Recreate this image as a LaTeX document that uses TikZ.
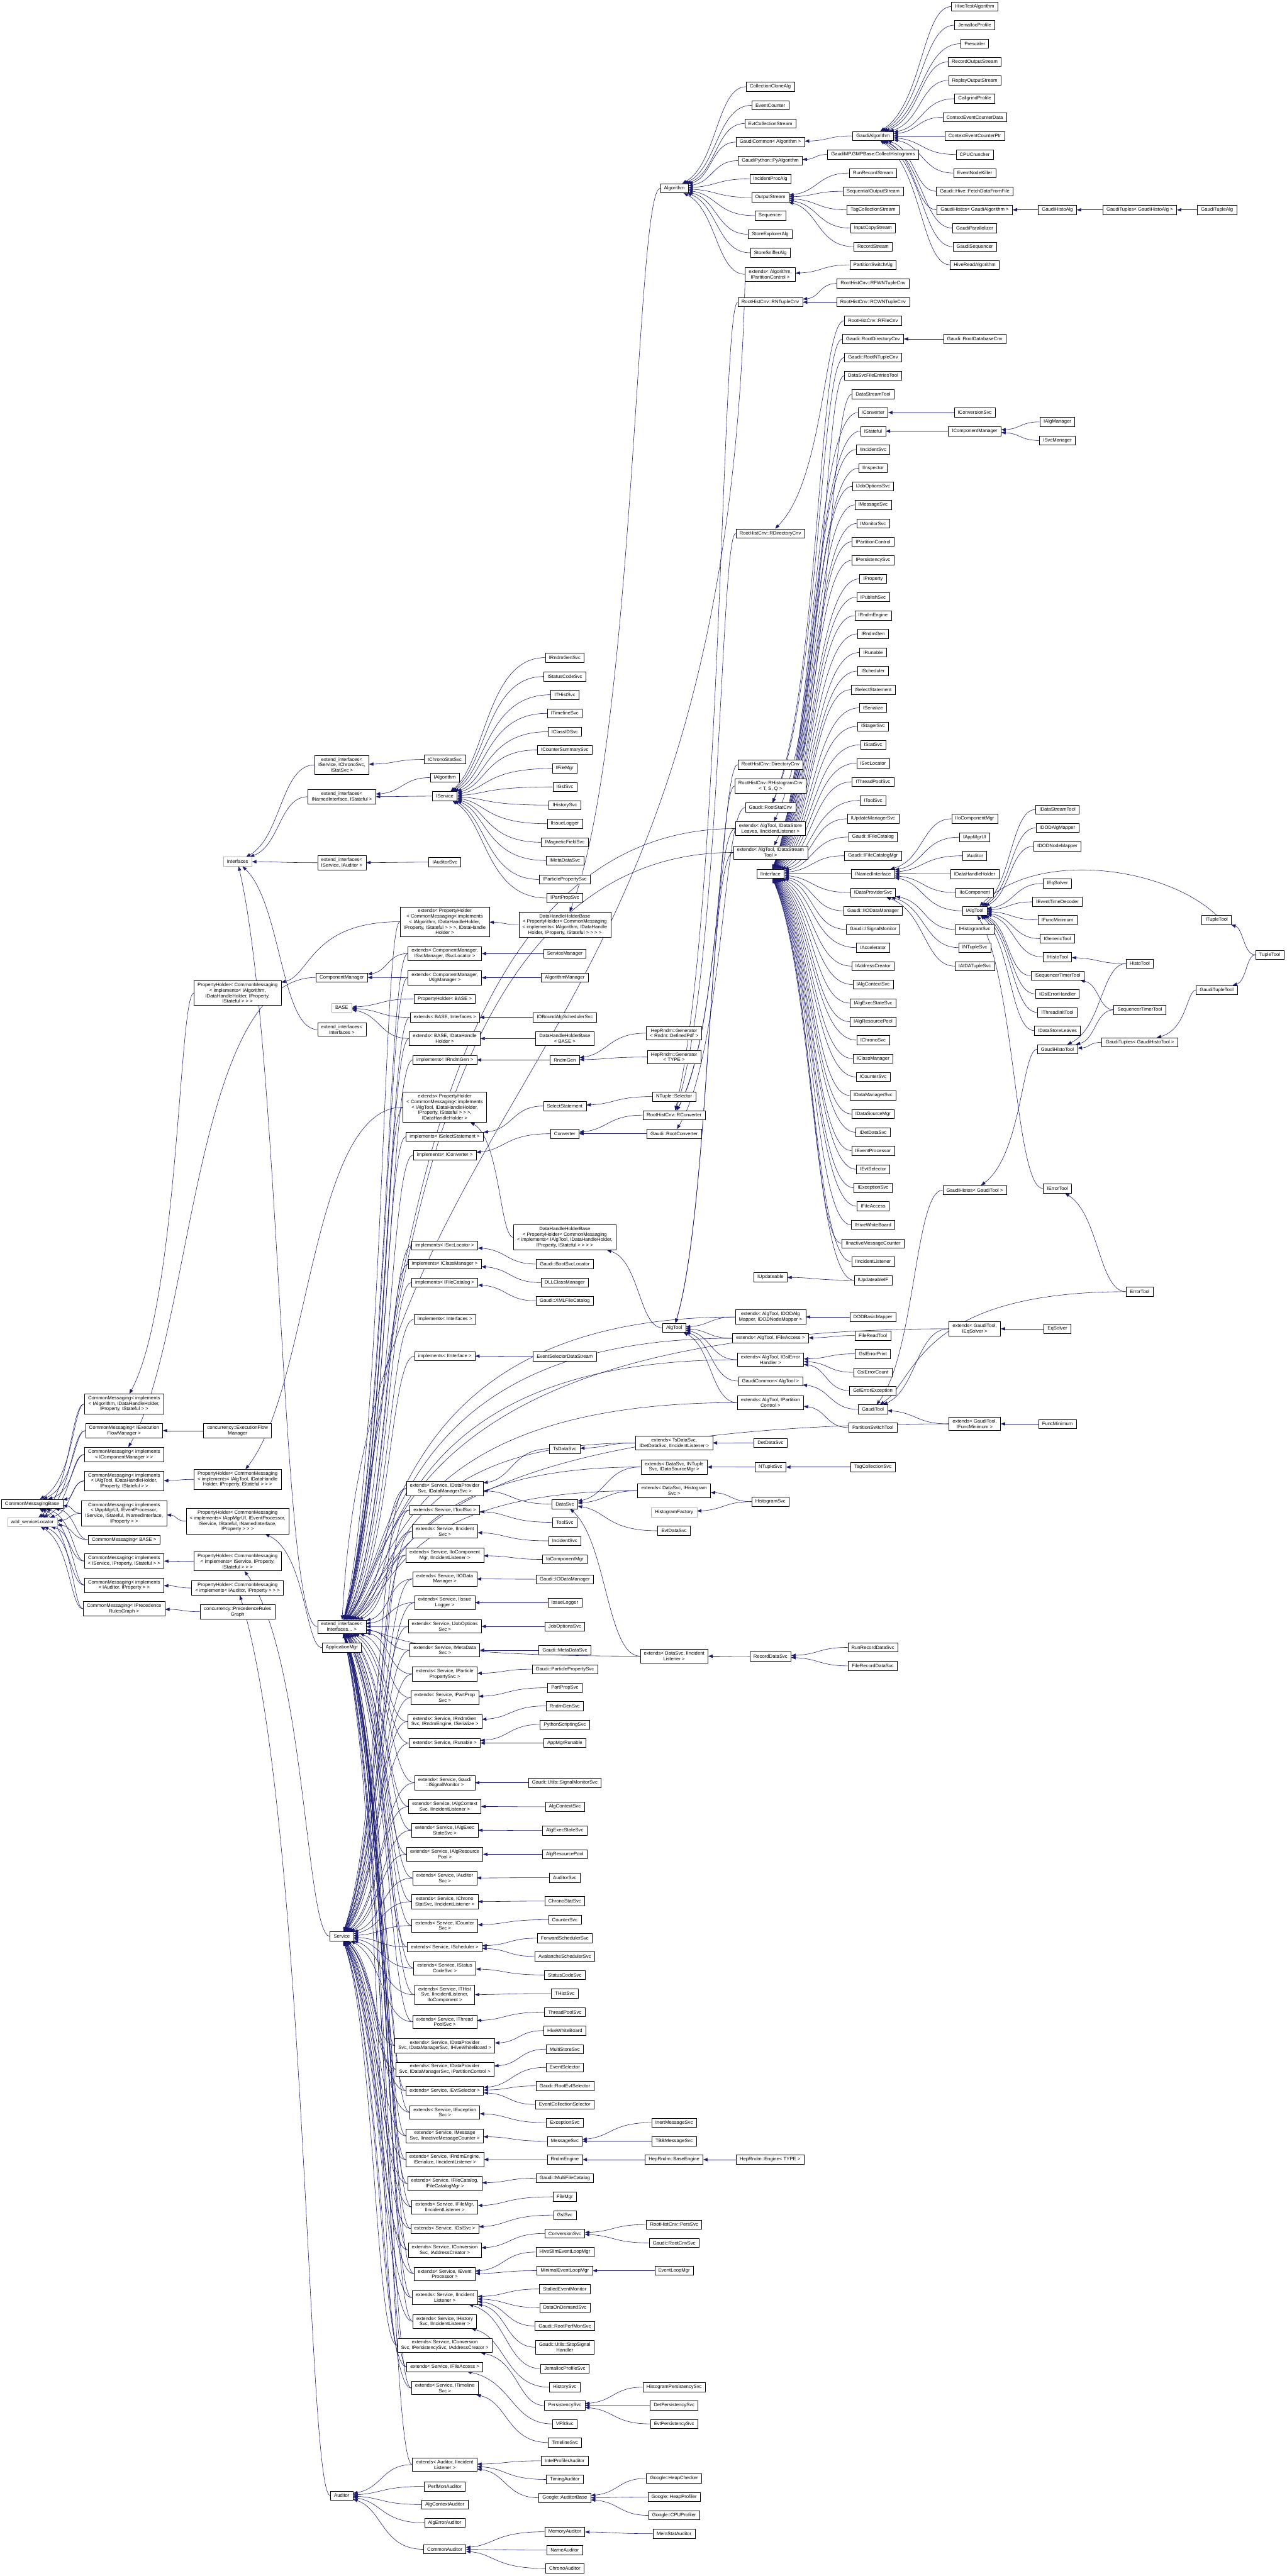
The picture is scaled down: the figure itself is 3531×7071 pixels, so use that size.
\documentclass[tikz,border=0pt]{standalone}
\usepackage{fontspec}
\setmainfont{Liberation Sans}
\usetikzlibrary{calc,arrows.meta}
\definecolor{edgeblue}{RGB}{25,25,112}
\pgfdeclarelayer{edgelayer}
\pgfsetlayers{edgelayer,main}
\tikzset{
  box/.style={draw=black, fill=white, line width=0.5pt, font=\fontsize{6.65}{7.5}\selectfont,
    align=center, inner xsep=5pt, inner ysep=3pt, minimum height=12.5pt},
  gbox/.style={box, draw=black!30},
  edge/.style={draw=edgeblue, line width=0.5pt, -{Triangle[length=6pt,width=4.5pt]}}
}
\newcommand{\gxn}[4]{\node[box] (#1) at (#2,#3) {#4};}
\newcommand{\gxg}[4]{\node[gbox] (#1) at (#2,#3) {#4};}
\newcommand{\gxe}[2]{\draw[edge] let \p1=(#1.west), \p2=(#2.east), \n1={\x2+min(0.5*(\x1-\x2),40pt)} in (\p1) .. controls (\n1,\y1) and (\n1,{\y2+0.25*(\y1-\y2)}) .. (#2);}
\newcommand{\gxes}[2]{\foreach \nm in {#1} {\gxe{\nm}{#2}}}
\begin{document}
\begin{tikzpicture}[x=0.5pt,y=-0.5pt]
\useasboundingbox (0,0) rectangle (3531,7071);
% ---------------- Algorithm cluster
\gxn{alg}{1850.6}{517}{Algorithm}
\gxn{cca}{2114}{238}{CollectionCloneAlg}
\gxn{evc}{2114}{289}{EventCounter}
\gxn{ecs}{2114}{339}{EvtCollectionStream}
\gxn{gca}{2114}{390}{GaudiCommon< Algorithm >}
\gxn{pya}{2114}{441}{GaudiPython::PyAlgorithm}
\gxn{ipa}{2114}{491}{IncidentProcAlg}
\gxn{ost}{2114}{542}{OutputStream}
\gxn{seq}{2114}{592}{Sequencer}
\gxn{sea}{2114}{643}{StoreExplorerAlg}
\gxn{ssa}{2114}{694}{StoreSnifferAlg}
\gxn{eapc}{2114}{753}{extends< Algorithm,\\IPartitionControl >}
\gxn{rntc}{2114}{829.5}{RootHistCnv::RNTupleCnv}
\gxn{rdc}{2114}{1464}{RootHistCnv::RDirectoryCnv}
\gxn{dcnv}{2114.5}{2099}{RootHistCnv::DirectoryCnv}
\gxn{rhc}{2114.5}{2157.5}{RootHistCnv::RHistogramCnv\\< T, S, Q >}
\gxn{rsc}{2114.5}{2216.6}{Gaudi::RootStatCnv}
\gxn{eadsl}{2114.5}{2274.4}{extends< AlgTool, IDataStore\\Leaves, IIncidentListener >}
\gxn{eadst}{2114.5}{2340}{extends< AlgTool, IDataStream\\Tool >}
\gxn{iif}{2114.5}{2398.6}{IInterface}
\gxn{iupd}{2114.5}{3505.5}{IUpdateable}
\gxn{eadod}{2114.5}{3615}{extends< AlgTool, IDODAlg\\Mapper, IDODNodeMapper >}
\gxn{eafa}{2114.5}{3673.5}{extends< AlgTool, IFileAccess >}
\gxn{eagsl}{2114.5}{3732.4}{extends< AlgTool, IGslError\\Handler >}
\gxn{gcat}{2114.5}{3791}{GaudiCommon< AlgTool >}
\gxn{eapct}{2114.5}{3850}{extends< AlgTool, IPartition\\Control >}
\gxn{dds}{2114.5}{3960.5}{DetDataSvc}
\gxn{nts}{2114.5}{4027}{NTupleSvc}
\gxn{hsvc}{2114.5}{4122}{HistogramSvc}
\gxn{rds}{2114.5}{4547}{RecordDataSvc}
\gxn{hre}{2113.5}{5928}{HepRndm::Engine< TYPE >}
% column 2396
\gxn{galg}{2396}{373}{GaudiAlgorithm}
\gxn{gmp}{2396}{424}{GaudiMP.GMPBase.CollectHistograms}
\gxn{rrs}{2396}{475}{RunRecordStream}
\gxn{sos}{2396}{525}{SequentialOutputStream}
\gxn{tcs}{2396}{576}{TagCollectionStream}
\gxn{ics}{2396}{626}{InputCopyStream}
\gxn{rst}{2396}{677}{RecordStream}
\gxn{psa}{2396}{727}{PartitionSwitchAlg}
\gxn{rfwn}{2396}{778}{RootHistCnv::RFWNTupleCnv}
\gxn{rcwn}{2396}{829.5}{RootHistCnv::RCWNTupleCnv}
\gxn{rfc}{2396}{880}{RootHistCnv::RFileCnv}
\gxn{grdc}{2396}{930.5}{Gaudi::RootDirectoryCnv}
\gxn{grntc}{2396}{981}{Gaudi::RootNTupleCnv}
\gxn{dsfet}{2396}{1031}{DataSvcFileEntriesTool}
\gxn{dstool}{2396}{1082}{DataStreamTool}
\gxn{iconv}{2396}{1132.5}{IConverter}
\gxn{istat}{2396}{1183.5}{IStateful}
\gxn{iincs}{2396}{1234}{IIncidentSvc}
\gxn{iinsp}{2396}{1285}{IInspector}
\gxn{ijos}{2396}{1335}{IJobOptionsSvc}
\gxn{imsg}{2396}{1386}{IMessageSvc}
\gxn{imon}{2396}{1437}{IMonitorSvc}
\gxn{ipc}{2396}{1487}{IPartitionControl}
\gxn{ipers}{2396}{1538}{IPersistencySvc}
\gxn{iprop}{2396}{1589}{IProperty}
\gxn{ipub}{2396}{1639}{IPublishSvc}
\gxn{irnde}{2396}{1690}{IRndmEngine}
\gxn{irndg}{2396}{1740}{IRndmGen}
\gxn{irun}{2396}{1791}{IRunable}
\gxn{isched}{2396}{1842}{IScheduler}
\gxn{isel}{2396}{1893}{ISelectStatement}
\gxn{iser}{2396}{1943}{ISerialize}
\gxn{istag}{2396}{1994}{IStagerSvc}
\gxn{istats}{2396}{2044.5}{IStatSvc}
\gxn{isvcl}{2396}{2095}{ISvcLocator}
\gxn{itps}{2396}{2146}{IThreadPoolSvc}
\gxn{itool}{2396}{2197}{IToolSvc}
\gxn{iums}{2396}{2247.5}{IUpdateManagerSvc}
\gxn{gifc}{2396}{2297.5}{Gaudi::IFileCatalog}
\gxn{gifcm}{2396}{2349}{Gaudi::IFileCatalogMgr}
\gxn{inamed}{2396}{2398.6}{INamedInterface}
\gxn{idps}{2396}{2450}{IDataProviderSvc}
\gxn{giiod}{2396}{2500}{Gaudi::IIODataManager}
\gxn{gisig}{2396}{2551}{Gaudi::ISignalMonitor}
\gxn{iacc}{2396}{2601}{IAccelerator}
\gxn{iac}{2396}{2652}{IAddressCreator}
\gxn{iacs}{2396}{2702.5}{IAlgContextSvc}
\gxn{iaes}{2396}{2753.5}{IAlgExecStateSvc}
\gxn{iarp}{2396}{2804.5}{IAlgResourcePool}
\gxn{ichr}{2396}{2855}{IChronoSvc}
\gxn{icm}{2396}{2906}{IClassManager}
\gxn{icnt}{2396}{2956}{ICounterSvc}
\gxn{idms}{2396}{3007}{IDataManagerSvc}
\gxn{idsm}{2396}{3058}{IDataSourceMgr}
\gxn{idds}{2396}{3108}{IDetDataSvc}
\gxn{iep}{2396}{3158.5}{IEventProcessor}
\gxn{ievs}{2396}{3209.5}{IEvtSelector}
\gxn{iexc}{2396}{3260.5}{IExceptionSvc}
\gxn{ifa}{2396}{3311}{IFileAccess}
\gxn{ihwb}{2396}{3362}{IHiveWhiteBoard}
\gxn{iimc}{2396}{3413}{IInactiveMessageCounter}
\gxn{iil}{2396}{3463}{IIncidentListener}
\gxn{iuif}{2396}{3514}{IUpdateableIF}
\gxn{dodbm}{2395.5}{3615}{DODBasicMapper}
\gxn{frt}{2395.5}{3666}{FileReadTool}
\gxn{gep}{2395.5}{3716}{GslErrorPrint}
\gxn{gec}{2395.5}{3767}{GslErrorCount}
\gxn{gee}{2395.5}{3817}{GslErrorException}
\gxn{gtool}{2395.5}{3868.6}{GaudiTool}
\gxn{pst}{2395.5}{3918.5}{PartitionSwitchTool}
\gxn{tcsvc}{2395.5}{4027}{TagCollectionSvc}
\gxn{rrds}{2395.5}{4522}{RunRecordDataSvc}
\gxn{frds}{2395.5}{4572.7}{FileRecordDataSvc}
% column 2675
\gxn{hta}{2675}{18}{HiveTestAlgorithm}
\gxn{jem}{2675}{69}{JemallocProfile}
\gxn{presc}{2675}{120}{Prescaler}
\gxn{ros}{2675}{170}{RecordOutputStream}
\gxn{rpos}{2675}{221}{ReplayOutputStream}
\gxn{cgp}{2675}{271}{CallgrindProfile}
\gxn{cecd}{2675}{322}{ContextEventCounterData}
\gxn{cecp}{2675}{373}{ContextEventCounterPtr}
\gxn{cpuc}{2675}{424}{CPUCruncher}
\gxn{enk}{2675}{475}{EventNodeKiller}
\gxn{fdf}{2675}{525}{Gaudi::Hive::FetchDataFromFile}
\gxn{ghga}{2675}{576}{GaudiHistos< GaudiAlgorithm >}
\gxn{gpar}{2675}{626}{GaudiParallelizer}
\gxn{gseq}{2675}{677}{GaudiSequencer}
\gxn{hra}{2675}{727}{HiveReadAlgorithm}
\gxn{grdbc}{2675}{930.5}{Gaudi::RootDatabaseCnv}
\gxn{iconvs}{2675}{1132.5}{IConversionSvc}
\gxn{icompm}{2675}{1183.5}{IComponentManager}
\gxn{iiocm}{2675}{2247.5}{IIoComponentMgr}
\gxn{iamui}{2675}{2298}{IAppMgrUI}
\gxn{iaud}{2675}{2349}{IAuditor}
\gxn{idhh}{2675}{2399}{IDataHandleHolder}
\gxn{iioc}{2675}{2450}{IIoComponent}
\gxn{ialgt}{2675}{2500}{IAlgTool}
\gxn{ihs}{2675}{2551}{IHistogramSvc}
\gxn{intup}{2675}{2601}{INTupleSvc}
\gxn{iaida}{2675}{2652}{IAIDATupleSvc}
\gxn{ghgt}{2675}{3266.7}{GaudiHistos< GaudiTool >}
\gxn{egteq}{2675}{3647.5}{extends< GaudiTool,\\IEqSolver >}
\gxn{egtfm}{2675}{3908.4}{extends< GaudiTool,\\IFuncMinimum >}
% column 2902
\gxn{ghalg}{2902}{576}{GaudiHistoAlg}
\gxn{ialgm}{2902}{1158}{IAlgManager}
\gxn{isvcm}{2902}{1209}{ISvcManager}
\gxn{idstt}{2902}{2222}{IDataStreamTool}
\gxn{idodam}{2902}{2272.5}{IDODAlgMapper}
\gxn{idodnm}{2902}{2323}{IDODNodeMapper}
\gxn{ieqs}{2902}{2425}{IEqSolver}
\gxn{ietd}{2902}{2475.5}{IEventTimeDecoder}
\gxn{ifmin}{2902}{2525}{IFuncMinimum}
\gxn{igent}{2902}{2576.5}{IGenericTool}
\gxn{iht}{2902}{2627}{IHistoTool}
\gxn{istt}{2902}{2678}{ISequencerTimerTool}
\gxn{igeh}{2902}{2728}{IGslErrorHandler}
\gxn{itit}{2902}{2779}{IThreadInitTool}
\gxn{idsl}{2902}{2829}{IDataStoreLeaves}
\gxn{ghtool}{2902}{2880}{GaudiHistoTool}
\gxn{ierrt}{2902}{3262.5}{IErrorTool}
\gxn{eqs}{2902}{3647.5}{EqSolver}
\gxn{fmin}{2902}{3908.4}{FuncMinimum}
% column 3128+
\gxn{gtga}{3128}{576}{GaudiTuples< GaudiHistoAlg >}
\gxn{htool}{3128}{2645}{HistoTool}
\gxn{stt}{3128}{2772}{SequencerTimerTool}
\gxn{gtgt}{3128}{2861}{GaudiTuples< GaudiHistoTool >}
\gxn{errt}{3128}{3545.6}{ErrorTool}
\gxn{gtalg}{3340}{576}{GaudiTupleAlg}
\gxn{itupt}{3339}{2525.5}{ITupleTool}
\gxn{gtt}{3339}{2717.7}{GaudiTupleTool}
\gxn{tt}{3484.5}{2621}{TupleTool}
% ---------------- middle column 1220
\gxn{iccs}{1220.6}{2084.5}{IChronoStatSvc}
\gxn{ialgo}{1220.6}{2134.5}{IAlgorithm}
\gxn{isvc}{1220.6}{2185.4}{IService}
\gxn{iauds}{1220.6}{2366.6}{IAuditorSvc}
\gxn{epha}{1220.6}{2530}{extends< PropertyHolder\\< CommonMessaging< implements\\< IAlgorithm, IDataHandleHolder,\\IProperty, IStateful > > >, IDataHandle\\Holder >}
\gxn{ecmsm}{1220.6}{2617.5}{extends< ComponentManager,\\ISvcManager, ISvcLocator >}
\gxn{ecmam}{1220.6}{2683.6}{extends< ComponentManager,\\IAlgManager >}
\gxn{phb}{1220.6}{2741.7}{PropertyHolder< BASE >}
\gxn{ebi}{1220.6}{2792.5}{extends< BASE, Interfaces >}
\gxn{ebdh}{1220.6}{2850.6}{extends< BASE, IDataHandle\\Holder >}
\gxn{irg}{1220.6}{2909.5}{implements< IRndmGen >}
\gxn{epht}{1220.6}{3039}{extends< PropertyHolder\\< CommonMessaging< implements\\< IAlgTool, IDataHandleHolder,\\IProperty, IStateful > > >,\\IDataHandleHolder >}
\gxn{iss}{1220.6}{3120}{implements< ISelectStatement >}
\gxn{icv}{1220.6}{3170.5}{implements< IConverter >}
\gxn{isl}{1220.6}{3418.8}{implements< ISvcLocator >}
\gxn{iclm}{1220.6}{3469.7}{implements< IClassManager >}
\gxn{ifc}{1220.6}{3520.6}{implements< IFileCatalog >}
\gxn{iint}{1220.6}{3621.5}{implements< Interfaces >}
\gxn{iii}{1220.6}{3722.3}{implements< IInterface >}
\gxn{s1}{1220.6}{4085.8}{extends< Service, IDataProvider\\Svc, IDataManagerSvc >}
\gxn{s2}{1220.6}{4144.7}{extends< Service, IToolSvc >}
\gxn{s3}{1220.6}{4203.6}{extends< Service, IIncident\\Svc >}
\gxn{s4}{1220.6}{4268.8}{extends< Service, IIoComponent\\Mgr, IIncidentListener >}
\gxn{s5}{1220.6}{4334}{extends< Service, IIOData\\Manager >}
\gxn{s6}{1220.6}{4399}{extends< Service, IIssue\\Logger >}
\gxn{s7}{1220.6}{4464.3}{extends< Service, IJobOptions\\Svc >}
\gxn{s8}{1220.6}{4529.6}{extends< Service, IMetaData\\Svc >}
\gxn{s9}{1220.6}{4595}{extends< Service, IParticle\\PropertySvc >}
\gxn{s10}{1220.6}{4660}{extends< Service, IPartProp\\Svc >}
\gxn{s11}{1220.6}{4725.5}{extends< Service, IRndmGen\\Svc, IRndmEngine, ISerialize >}
\gxn{s12}{1220.6}{4784.5}{extends< Service, IRunable >}
\gxn{s13}{1220.6}{4893.4}{extends< Service, Gaudi\\::ISignalMonitor >}
\gxn{s14}{1220.6}{4958.6}{extends< Service, IAlgContext\\Svc, IIncidentListener >}
\gxn{s15}{1220.6}{5023.8}{extends< Service, IAlgExec\\StateSvc >}
\gxn{s16}{1220.6}{5089.8}{extends< Service, IAlgResource\\Pool >}
\gxn{s17}{1220.6}{5155}{extends< Service, IAuditor\\Svc >}
\gxn{s18}{1220.6}{5220}{extends< Service, IChrono\\StatSvc, IIncidentListener >}
\gxn{s19}{1220.6}{5285.4}{extends< Service, ICounter\\Svc >}
\gxn{s20}{1220.6}{5344.3}{extends< Service, IScheduler >}
\gxn{s21}{1220.6}{5402.4}{extends< Service, IStatus\\CodeSvc >}
\gxn{s22}{1220.6}{5475.6}{extends< Service, ITHist\\Svc, IIncidentListener,\\IIoComponent >}
\gxn{s23}{1220.6}{5549.7}{extends< Service, IThread\\PoolSvc >}
\gxn{s24}{1220.6}{5614.9}{extends< Service, IDataProvider\\Svc, IDataManagerSvc, IHiveWhiteBoard >}
\gxn{s25}{1220.6}{5680}{extends< Service, IDataProvider\\Svc, IDataManagerSvc, IPartitionControl >}
\gxn{s26}{1220.6}{5739}{extends< Service, IEvtSelector >}
\gxn{s27}{1220.6}{5798}{extends< Service, IException\\Svc >}
\gxn{s28}{1220.6}{5863}{extends< Service, IMessage\\Svc, IInactiveMessageCounter >}
\gxn{s29}{1220.6}{5927.8}{extends< Service, IRndmEngine,\\ISerialize, IIncidentListener >}
\gxn{s30}{1220.6}{5993.7}{extends< Service, IFileCatalog,\\IFileCatalogMgr >}
\gxn{s31}{1220.6}{6058}{extends< Service, IFileMgr,\\IIncidentListener >}
\gxn{s32}{1220.6}{6117.3}{extends< Service, IGslSvc >}
\gxn{s33}{1220.6}{6176.5}{extends< Service, IConversion\\Svc, IAddressCreator >}
\gxn{s34}{1220.6}{6241.7}{extends< Service, IEvent\\Processor >}
\gxn{s35}{1220.6}{6306.9}{extends< Service, IIncident\\Listener >}
\gxn{s36}{1220.6}{6372}{extends< Service, IHistory\\Svc, IIncidentListener >}
\gxn{s37}{1220.6}{6437.9}{extends< Service, IConversion\\Svc, IPersistencySvc, IAddressCreator >}
\gxn{s38}{1220.6}{6497}{extends< Service, IFileAccess >}
\gxn{s39}{1220.6}{6554.9}{extends< Service, ITimeline\\Svc >}
\gxn{eaud}{1220.6}{6765.2}{extends< Auditor, IIncident\\Listener >}
\gxn{pma}{1220.6}{6825}{PerfMonAuditor}
\gxn{aca}{1220.6}{6874.7}{AlgContextAuditor}
\gxn{aea}{1220.6}{6925}{AlgErrorAuditor}
\gxn{cau}{1220.6}{6997.6}{CommonAuditor}
% ---------------- column 1550
\gxn{irgs}{1550}{1805}{IRndmGenSvc}
\gxn{iscs}{1550}{1857}{IStatusCodeSvc}
\gxn{iths}{1550}{1907}{ITHistSvc}
\gxn{itls}{1550}{1958}{ITimelineSvc}
\gxn{icids}{1550}{2008.6}{IClassIDSvc}
\gxn{icss}{1550}{2058.6}{ICounterSummarySvc}
\gxn{ifm}{1550}{2109.5}{IFileMgr}
\gxn{igsl}{1550}{2160}{IGslSvc}
\gxn{ihist}{1550}{2210}{IHistorySvc}
\gxn{iisl}{1550}{2261}{IIssueLogger}
\gxn{imfs}{1550}{2312}{IMagneticFieldSvc}
\gxn{imds}{1550}{2362}{IMetaDataSvc}
\gxn{ipps}{1550}{2414}{IParticlePropertySvc}
\gxn{ippr}{1550}{2465}{IPartPropSvc}
\gxn{dhha}{1550}{2538}{DataHandleHolderBase\\< PropertyHolder< CommonMessaging\\< implements< IAlgorithm, IDataHandle\\Holder, IProperty, IStateful > > > >}
\gxn{smgr}{1550}{2617.5}{ServiceManager}
\gxn{amgr}{1550}{2683.6}{AlgorithmManager}
\gxn{iobs}{1550}{2792.5}{IOBoundAlgSchedulerSvc}
\gxn{dhhb}{1550}{2850.6}{DataHandleHolderBase\\< BASE >}
\gxn{rgen}{1550}{2909.5}{RndmGen}
\gxn{sst}{1550}{3036}{SelectStatement}
\gxn{conv}{1550}{3112}{Converter}
\gxn{dhht}{1550}{3396.4}{DataHandleHolderBase\\< PropertyHolder< CommonMessaging\\< implements< IAlgTool, IDataHandleHolder,\\IProperty, IStateful > > > >}
\gxn{bsl}{1550}{3469.7}{Gaudi::BootSvcLocator}
\gxn{dllcm}{1550}{3520.6}{DLLClassManager}
\gxn{xfc}{1550}{3570.6}{Gaudi::XMLFileCatalog}
\gxn{esds}{1550}{3723.2}{EventSelectorDataStream}
\gxn{tsds}{1550}{3976.8}{TsDataSvc}
\gxn{dsvc}{1550}{4128.6}{DataSvc}
\gxn{tsvc}{1550}{4178.6}{ToolSvc}
\gxn{incs}{1550}{4229.5}{IncidentSvc}
\gxn{iocm}{1550}{4280.4}{IoComponentMgr}
\gxn{giodm}{1550}{4334.8}{Gaudi::IODataManager}
\gxn{isslog}{1550}{4399}{IssueLogger}
\gxn{josvc}{1550}{4464.3}{JobOptionsSvc}
\gxn{gmds}{1550}{4529.6}{Gaudi::MetaDataSvc}
\gxn{gpps}{1550}{4581.8}{Gaudi::ParticlePropertySvc}
\gxn{pps}{1550}{4632.7}{PartPropSvc}
\gxn{rgs}{1550}{4682.7}{RndmGenSvc}
\gxn{pss}{1550}{4733.6}{PythonScriptingSvc}
\gxn{amr}{1550}{4784.5}{AppMgrRunable}
\gxn{gsms}{1550}{4893.4}{Gaudi::Utils::SignalMonitorSvc}
\gxn{acs}{1550}{4959.5}{AlgContextSvc}
\gxn{aes}{1550}{5024.7}{AlgExecStateSvc}
\gxn{arp}{1550}{5089.8}{AlgResourcePool}
\gxn{auds}{1550}{5154}{AuditorSvc}
\gxn{css}{1550}{5218.4}{ChronoStatSvc}
\gxn{cnts}{1550}{5269.3}{CounterSvc}
\gxn{fss}{1550}{5320.2}{ForwardSchedulerSvc}
\gxn{ass}{1550}{5370.2}{AvalancheSchedulerSvc}
\gxn{scs}{1550}{5421}{StatusCodeSvc}
\gxn{ths}{1550}{5472}{THistSvc}
\gxn{tps}{1550}{5523}{ThreadPoolSvc}
\gxn{hwb}{1550}{5573.8}{HiveWhiteBoard}
\gxn{mss}{1550}{5624.7}{MultiStoreSvc}
\gxn{evsel}{1550}{5674.7}{EventSelector}
\gxn{gres}{1550}{5725.6}{Gaudi::RootEvtSelector}
\gxn{ecsel}{1550}{5776.5}{EventCollectionSelector}
\gxn{excs}{1550}{5826.5}{ExceptionSvc}
\gxn{msgs}{1550}{5877.4}{MessageSvc}
\gxn{rnde}{1550}{5928}{RndmEngine}
\gxn{gmfc}{1550}{5978.9}{Gaudi::MultiFileCatalog}
\gxn{fmgr}{1550}{6030}{FileMgr}
\gxn{gslsvc}{1550}{6080.3}{GslSvc}
\gxn{convs}{1550}{6130.6}{ConversionSvc}
\gxn{hsel}{1550}{6181.7}{HiveSlimEventLoopMgr}
\gxn{mel}{1550}{6232.8}{MinimalEventLoopMgr}
\gxn{sem}{1550}{6283.2}{StalledEventMonitor}
\gxn{dods}{1550}{6334.2}{DataOnDemandSvc}
\gxn{grpm}{1550}{6384.6}{Gaudi::RootPerfMonSvc}
\gxn{ssh}{1550}{6443}{Gaudi::Utils::StopSignal\\Handler}
\gxn{jps}{1550}{6501.6}{JemallocProfileSvc}
\gxn{hists}{1550}{6552.7}{HistorySvc}
\gxn{perss}{1550}{6603}{PersistencySvc}
\gxn{vfs}{1550}{6653.4}{VFSSvc}
\gxn{tls}{1550}{6704.5}{TimelineSvc}
\gxn{ipa2}{1550}{6754.8}{IntelProfilerAuditor}
\gxn{tmaud}{1550}{6805.9}{TimingAuditor}
\gxn{gab}{1550}{6856.2}{Google::AuditorBase}
\gxn{memaud}{1550}{6949.5}{MemoryAuditor}
\gxn{naud}{1550}{6999.9}{NameAuditor}
\gxn{chraud}{1550}{7050.2}{ChronoAuditor}
% ---------------- column 1850
\gxn{hgdp}{1850}{2836}{HepRndm::Generator\\< Rndm::DefinedPdf >}
\gxn{hgt}{1850}{2901.5}{HepRndm::Generator\\< TYPE >}
\gxn{ntsel}{1850}{3010}{NTuple::Selector}
\gxn{rconv}{1850}{3061}{RootHistCnv::RConverter}
\gxn{gconv}{1850}{3112}{Gaudi::RootConverter}
\gxn{algtool}{1850}{3644.7}{AlgTool}
\gxn{etsds}{1850}{3960.8}{extends< TsDataSvc,\\IDetDataSvc, IIncidentListener >}
\gxn{edsnt}{1850}{4026.8}{extends< DataSvc, INTuple\\Svc, IDataSourceMgr >}
\gxn{edshi}{1850}{4092}{extends< DataSvc, IHistogram\\Svc >}
\gxg{hfac}{1850}{4151}{HistogramFactory}
\gxn{evds}{1850}{4201.8}{EvtDataSvc}
\gxn{edsil}{1850}{4546}{extends< DataSvc, IIncident\\Listener >}
\gxn{ims}{1850}{5826.5}{InertMessageSvc}
\gxn{tbbms}{1850}{5877.4}{TBBMessageSvc}
\gxn{hbe}{1850}{5928}{HepRndm::BaseEngine}
\gxn{rhps}{1850}{6106.2}{RootHistCnv::PersSvc}
\gxn{grcs}{1850}{6156.5}{Gaudi::RootCnvSvc}
\gxn{elm}{1850}{6232.8}{EventLoopMgr}
\gxn{hps}{1850}{6552.7}{HistogramPersistencySvc}
\gxn{dps}{1850}{6603}{DetPersistencySvc}
\gxn{eps}{1850}{6653.4}{EvtPersistencySvc}
\gxn{ghc}{1850}{6803}{Google::HeapChecker}
\gxn{ghp}{1850}{6854}{Google::HeapProfiler}
\gxn{gcpu}{1850}{6904.4}{Google::CPUProfiler}
\gxn{msa}{1850}{6954.7}{MemStatAuditor}
% ---------------- column 938
\gxn{eicss}{938}{2099.5}{extend\_interfaces<\\IService, IChronoSvc,\\IStatSvc >}
\gxn{einis}{938}{2187}{extend\_interfaces<\\INamedInterface, IStateful >}
\gxn{eisa}{938}{2368}{extend\_interfaces<\\IService, IAuditor >}
\gxn{cmgr}{938}{2683}{ComponentManager}
\gxg{base}{938}{2766}{BASE}
\gxn{eii1}{938}{2826}{extend\_interfaces<\\Interfaces >}
\gxn{eii}{938}{4465}{extend\_interfaces<\\Interfaces... >}
\gxn{appm}{938}{4522.5}{ApplicationMgr}
\gxn{svc}{938}{5315}{Service}
\gxn{aud}{938}{6850}{Auditor}
% ---------------- column 652
\gxg{ifs}{652}{2365}{Interfaces}
\gxn{phalg}{652}{2726}{PropertyHolder< CommonMessaging\\< implements< IAlgorithm,\\IDataHandleHolder, IProperty,\\IStateful > > >}
\gxn{cefm}{652}{3927}{concurrency::ExecutionFlow\\Manager}
\gxn{phat}{652}{4060.7}{PropertyHolder< CommonMessaging\\< implements< IAlgTool, IDataHandle\\Holder, IProperty, IStateful > > >}
\gxn{phamu}{652}{4175.6}{PropertyHolder< CommonMessaging\\< implements< IAppMgrUI, IEventProcessor,\\IService, IStateful, INamedInterface,\\IProperty > > >}
\gxn{phsvc}{652}{4286}{PropertyHolder< CommonMessaging\\< implements< IService, IProperty,\\IStateful > > >}
\gxn{phaud}{652}{4359}{PropertyHolder< CommonMessaging\\< implements< IAuditor, IProperty > > >}
\gxn{cprg}{652}{4424}{concurrency::PrecedenceRules\\Graph}
% ---------------- column 340
\gxn{cmalg}{340.6}{3853.6}{CommonMessaging< implements\\< IAlgorithm, IDataHandleHolder,\\IProperty, IStateful > >}
\gxn{cmefm}{340.6}{3927}{CommonMessaging< IExecution\\FlowManager >}
\gxn{cmcm}{340.6}{3992.4}{CommonMessaging< implements\\< IComponentManager > >}
\gxn{cmat}{340.6}{4065}{CommonMessaging< implements\\< IAlgTool, IDataHandleHolder,\\IProperty, IStateful > >}
\gxn{cmamu}{340.6}{4154}{CommonMessaging< implements\\< IAppMgrUI, IEventProcessor,\\IService, IStateful, INamedInterface,\\IProperty > >}
\gxn{cmb}{340.6}{4226.6}{CommonMessaging< BASE >}
\gxn{cmsvc}{340.6}{4285}{CommonMessaging< implements\\< IService, IProperty, IStateful > >}
\gxn{cmaud}{340.6}{4351}{CommonMessaging< implements\\< IAuditor, IProperty > >}
\gxn{cmprg}{340.6}{4416}{CommonMessaging< IPrecedence\\RulesGraph >}
\gxn{cmbase}{88}{4128}{CommonMessagingBase}
\gxg{asl}{89}{4178}{add\_serviceLocator}
% ================= EDGES
\begin{pgfonlayer}{edgelayer}
\fill[white] (0,0) rectangle (3531,7071);
\gxes{cca,evc,ecs,gca,pya,ipa,ost,seq,sea,ssa,eapc}{alg}
\gxe{galg}{gca}
\gxe{gmp}{pya}
\gxes{rrs,sos,tcs,ics,rst}{ost}
\gxe{psa}{eapc}
\gxes{hta,jem,presc,ros,rpos,cgp,cecd,cecp,cpuc,enk,fdf,ghga,gpar,gseq,hra}{galg}
\gxe{ghalg}{ghga}
\gxe{gtga}{ghalg}
\gxe{gtalg}{gtga}
\gxe{alg}{dhha}
\gxe{dhha}{epha}
\gxe{epha}{phalg}
\gxe{phalg}{cmalg}
\gxes{rfwn,rcwn}{rntc}
\gxe{rfc}{rdc}
\gxe{grdbc}{grdc}
\gxes{grdc,grntc}{rsc}
\gxe{dsfet}{eadsl}
\gxe{dstool}{eadst}
\gxes{rntc,rdc,dcnv,rhc}{rconv}
\gxe{rsc}{gconv}
\gxes{rconv,gconv}{conv}
\gxe{conv}{icv}
\gxes{eadsl,eadst}{algtool}
\gxes{iconv,istat,iincs,iinsp,ijos,imsg,imon,ipc,ipers,iprop,ipub,irnde,irndg,irun,isched,isel,iser,istag,istats,isvcl,itps,itool,iums,gifc,gifcm,inamed,idps,giiod,gisig,iacc,iac,iacs,iaes,iarp,ichr,icm,icnt,idms,idsm,idds,iep,ievs,iexc,ifa,ihwb,iimc,iil,iuif}{iif}
\gxe{iconvs}{iconv}
\gxe{icompm}{istat}
\gxes{ialgm,isvcm}{icompm}
\gxes{iiocm,iamui,iaud,idhh,iioc,ialgt}{inamed}
\gxes{ihs,intup,iaida}{idps}
\gxes{idstt,idodam,idodnm,ieqs,ietd,ifmin,igent,iht,istt,igeh,itit,idsl,ierrt}{ialgt}
\draw[edge] (itupt.north) .. controls (3200,2380) and (2850,2330) .. (ialgt);
\gxes{htool}{iht}
\gxes{htool,stt,gtgt}{ghtool}
\gxe{stt}{istt}
\gxe{gtt}{gtgt}
\gxe{tt}{itupt}
\gxe{tt}{gtt}
\gxe{ghtool}{ghgt}
\gxe{ghgt}{gtool}
\gxe{errt}{ierrt}
\gxe{errt}{gtool}
\gxe{iuif}{iupd}
\gxe{dodbm}{eadod}
\gxe{frt}{eafa}
\gxes{gep,gec,gee}{eagsl}
\gxe{gtool}{gcat}
\gxe{pst}{eapct}
\gxe{eqs}{egteq}
\gxe{fmin}{egtfm}
\gxes{egteq,egtfm}{gtool}
\gxes{eadod,eafa,eagsl,gcat,eapct}{algtool}
\gxe{algtool}{dhht}
\gxe{dhht}{epht}
\gxe{epht}{phat}
\gxe{phat}{cmat}
\gxe{tcsvc}{nts}
\gxe{nts}{edsnt}
\gxe{dds}{etsds}
\gxe{hsvc}{edshi}
\gxe{hsvc}{hfac}
\gxe{rds}{edsil}
\gxes{rrds,frds}{rds}
\gxe{etsds}{tsds}
\gxes{edsnt,edshi,evds,edsil}{dsvc}
\gxes{tsds,dsvc}{s1}
\gxes{s1,s2,s3,s4,s5,s6,s7,s8,s9,s10,s11,s12,s13,s14,s15,s16,s17,s18,s19,s20,s21,s22,s23,s24,s25,s26,s27,s28,s29,s30,s31,s32,s33,s34,s35,s36,s37,s38,s39}{svc}
\gxes{s1,s2,s3,s4,s5,s6,s7,s8,s9,s10,s11,s12,s13,s14,s15,s16,s17,s18,s19,s20,s21,s22,s23,s24,s25,s26,s27,s28,s29,s30,s31,s32,s33,s34,s35,s36,s37,s38,s39}{eii}
\gxes{epha,ecmsm,ecmam,ebi,ebdh,irg,epht,iss,icv,isl,iclm,ifc,iint,iii,etsds,edsnt,edshi,edsil,eadsl,eadst,eadod,eafa,eagsl,eapct,egteq,egtfm,eaud}{eii}
\draw[edge] (eapc.south west) .. controls (1990,2950) and (1020,2950) .. (eii);
\gxe{svc}{phsvc}
\gxe{phsvc}{cmsvc}
\gxe{appm}{phamu}
\gxe{phamu}{cmamu}
\gxe{aud}{phaud}
\gxe{phaud}{cmaud}
\gxes{eaud,pma,aca,aea,cau}{aud}
\gxes{ipa2,tmaud,gab}{eaud}
\gxes{ghc,ghp,gcpu}{gab}
\gxes{memaud,naud,chraud}{cau}
\gxe{msa}{memaud}
\gxe{tsvc}{s2}
\gxe{incs}{s3}
\gxe{iocm}{s4}
\gxe{giodm}{s5}
\gxe{isslog}{s6}
\gxe{josvc}{s7}
\gxe{gmds}{s8}
\gxe{gpps}{s9}
\gxe{pps}{s10}
\gxe{rgs}{s11}
\gxes{pss,amr}{s12}
\gxe{gsms}{s13}
\gxe{acs}{s14}
\gxe{aes}{s15}
\gxe{arp}{s16}
\gxe{auds}{s17}
\gxe{css}{s18}
\gxe{cnts}{s19}
\gxes{fss,ass}{s20}
\gxe{scs}{s21}
\gxe{ths}{s22}
\gxe{tps}{s23}
\gxe{hwb}{s24}
\gxe{mss}{s25}
\gxes{evsel,gres,ecsel}{s26}
\gxe{excs}{s27}
\gxe{msgs}{s28}
\gxes{ims,tbbms}{msgs}
\gxe{rnde}{s29}
\gxe{hbe}{rnde}
\gxe{hre}{hbe}
\gxe{gmfc}{s30}
\gxe{fmgr}{s31}
\gxe{gslsvc}{s32}
\gxe{convs}{s33}
\gxes{rhps,grcs}{convs}
\gxes{hsel,mel}{s34}
\gxe{elm}{mel}
\gxes{sem,dods,grpm,ssh,jps}{s35}
\gxe{hists}{s36}
\gxe{perss}{s37}
\gxes{hps,dps,eps}{perss}
\gxe{vfs}{s38}
\gxe{tls}{s39}
\gxe{bsl}{isl}
\gxe{dllcm}{iclm}
\gxe{xfc}{ifc}
\gxe{esds}{iii}
\gxe{sst}{iss}
\gxe{ntsel}{sst}
\gxe{rgen}{irg}
\gxes{hgdp,hgt}{rgen}
\gxes{ebdh,ebi,phb}{base}
\gxe{dhhb}{ebdh}
\gxe{iobs}{ebi}
\gxes{ecmsm,ecmam}{cmgr}
\gxe{smgr}{ecmsm}
\gxe{amgr}{ecmam}
\gxe{cmgr}{cmcm}
\gxe{iccs}{eicss}
\gxes{ialgo,isvc}{einis}
\gxe{iauds}{eisa}
\gxes{irgs,iscs,iths,itls,icids,icss,ifm,igsl,ihist,iisl,imfs,imds,ipps,ippr}{isvc}
\gxes{eicss,einis,eisa,eii1,eii}{ifs}
\gxe{cefm}{cmefm}
\gxe{cprg}{cmprg}
\gxes{cmalg,cmefm,cmcm,cmat,cmamu,cmb,cmsvc,cmaud,cmprg}{cmbase}
\gxes{cmalg,cmefm,cmcm,cmat,cmamu,cmb,cmsvc,cmaud,cmprg}{asl}
\end{pgfonlayer}
\end{tikzpicture}
\end{document}
